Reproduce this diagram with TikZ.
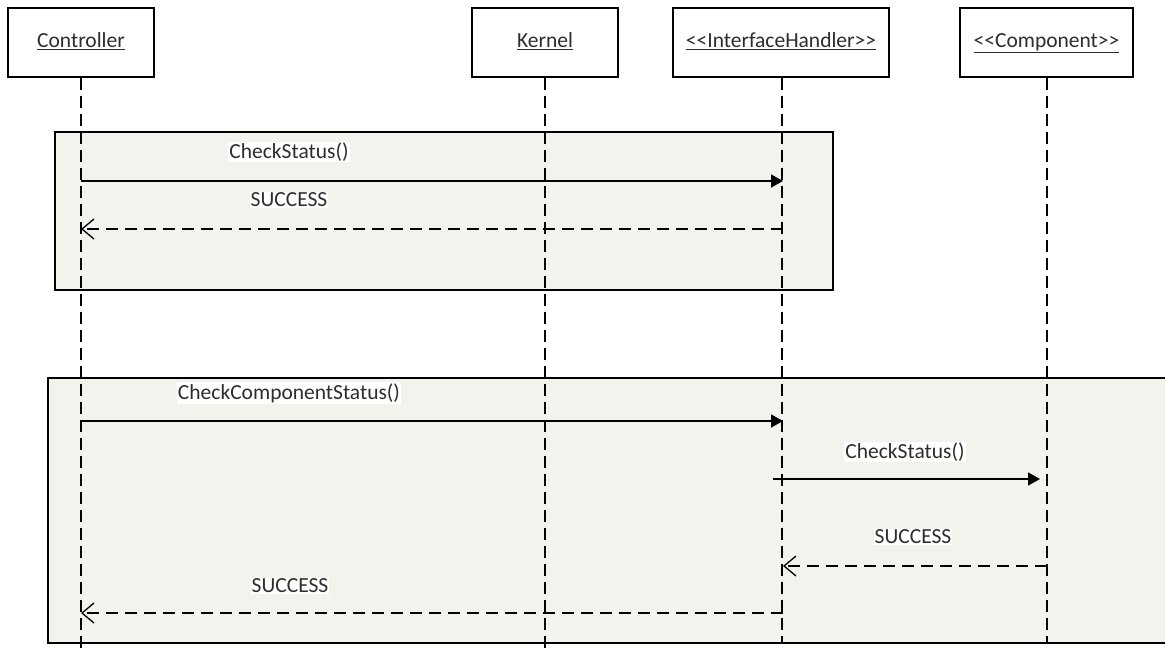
\documentclass[tikz,border=0pt]{standalone}
\usepackage{fontspec}
\setmainfont{Carlito}[Ligatures=TeXOff]
\usetikzlibrary{arrows.meta}
\definecolor{framefill}{RGB}{243,243,238}
\definecolor{txt}{RGB}{45,45,45}
\begin{document}
\begin{tikzpicture}[x=1pt,y=-1pt,
  objbox/.style={draw, line width=1.5pt, minimum height=69pt, inner sep=0pt,
    text height=15pt, text depth=5pt,
    font=\fontsize{21.5}{25}\selectfont, text=txt},
  frame/.style={draw, line width=1.7pt, fill=framefill},
  lifeline/.style={line width=1.5pt, dash pattern=on 12pt off 6pt},
  call/.style={line width=1.5pt, -{Triangle[length=12pt,width=13pt]}},
  reply/.style={line width=1.5pt, dash pattern=on 12pt off 7pt,
    -{Straight Barb[length=12pt,width=20pt,line width=1.3pt]}},
  msg/.style={fill=white, inner sep=1pt, text=txt, font=\fontsize{21.5}{25}\selectfont}]
\useasboundingbox (0,0) rectangle (1165,653);
% object boxes
\node[objbox, minimum width=146pt] (ctl) at (81,42.5) {\underline{Controller}};
\node[objbox, minimum width=146pt] (krn) at (545,42.5) {\underline{Kernel}};
\node[objbox, minimum width=216pt] (ih) at (781,42.5) {\underline{<<InterfaceHandler>>}};
\node[objbox, minimum width=173pt] (cmp) at (1046.5,42.5) {\underline{<<Component>>}};
% frames
\node[frame, minimum width=778pt, minimum height=158pt, inner sep=0pt, anchor=north west] (f1) at (54,131) {};
\node[frame, minimum width=1130pt, minimum height=265pt, inner sep=0pt, anchor=north west] (f2) at (47,377) {};
% lifeline ends
\coordinate (ctlEnd) at (81,653);
\coordinate (krnEnd) at (545,653);
\coordinate (ihEnd) at (782,642);
\coordinate (cmpEnd) at (1047,642);
\draw[lifeline] (ctl.south) -- (ctlEnd);
\draw[lifeline] (krn.south) -- (krnEnd);
\draw[lifeline] ([xshift=1pt]ih.south) -- (ihEnd);
\draw[lifeline] ([xshift=0.5pt]cmp.south) -- (cmpEnd);
% message points
\coordinate (m1a) at (81,181);  \coordinate (m1b) at (783,181);
\coordinate (m2a) at (783,229); \coordinate (m2b) at (81,229);
\coordinate (m3a) at (81,421);  \coordinate (m3b) at (783,421);
\coordinate (m4a) at (773,479); \coordinate (m4b) at (1040,479);
\coordinate (m5a) at (1047,566); \coordinate (m5b) at (783,566);
\coordinate (m6a) at (783,613); \coordinate (m6b) at (81,613);
\draw[call] (m1a) -- (m1b);
\draw[reply] (m2a) -- (m2b);
\draw[call] (m3a) -- (m3b);
\draw[call] (m4a) -- (m4b);
\draw[reply] (m5a) -- (m5b);
\draw[reply] (m6a) -- (m6b);
% labels
\node[msg] (l1) at (289,152) {CheckStatus()};
\node[msg] (l2) at (289,200) {SUCCESS};
\node[msg] (l3) at (289,393) {CheckComponentStatus()};
\node[msg] (l4) at (905,452) {CheckStatus()};
\node[msg] (l5) at (913,537) {SUCCESS};
\node[msg] (l6) at (290,586) {SUCCESS};
\end{tikzpicture}
\end{document}
